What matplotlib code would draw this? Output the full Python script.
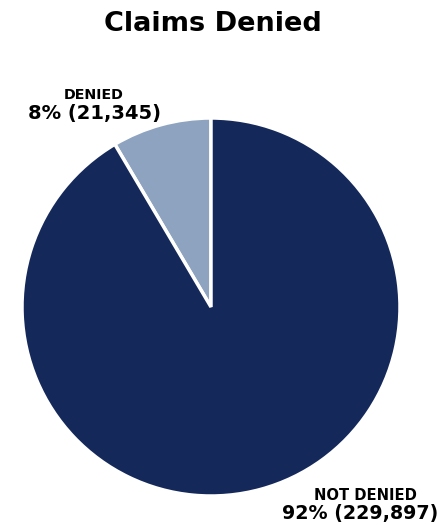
import matplotlib.pyplot as plt

labels = ['DENIED', 'NOT DENIED']
counts = [21345, 229897]
colors = ['#8da3c0', '#14285a']

fig = plt.figure(figsize=(4.43, 5.25), dpi=100)
# pie axes placed in figure pixels: center (211, 307), radius 189
W, H = 443, 525
cx, cy, r = 211, 307, 189
ax = fig.add_axes([(cx - r) / W, 1 - (cy + r) / H, 2 * r / W, 2 * r / H])
ax.pie(counts, colors=colors, startangle=90, counterclock=True, radius=1,
       wedgeprops=dict(edgecolor='white', linewidth=2.5))
ax.set_xlim(-1, 1)
ax.set_ylim(-1, 1)
ax.set_aspect('equal')

total = sum(counts)
pcts = [round(c / total * 100) for c in counts]

fig.text(213 / W, 1 - 24 / H, 'Claims Denied', ha='center', va='center',
         fontsize=19.5, fontweight='bold')

# slice labels
fig.text(94 / W, 1 - 95 / H, labels[0], ha='center', va='center',
         fontsize=10.3, fontweight='bold')
fig.text(94 / W, 1 - 114 / H, f'{pcts[0]}% ({counts[0]:,})', ha='center',
         va='center', fontsize=14, fontweight='bold')
fig.text(365 / W, 1 - 495 / H, labels[1], ha='center', va='center',
         fontsize=10.6, fontweight='bold')
fig.text(360 / W, 1 - 514 / H, f'{pcts[1]}% ({counts[1]:,})', ha='center',
         va='center', fontsize=13.7, fontweight='bold')

fig.savefig('out.png', dpi=100)
